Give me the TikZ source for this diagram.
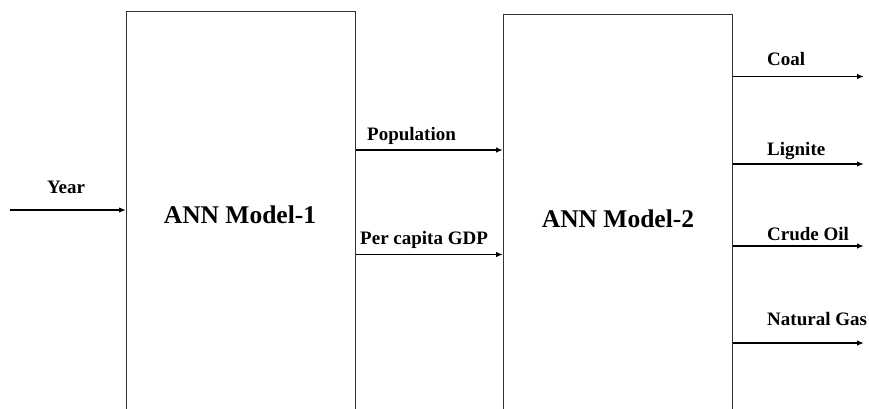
\documentclass[tikz,border=0pt]{standalone}
\usepackage{fontspec}
\setmainfont{Liberation Serif}
\usetikzlibrary{arrows.meta,positioning}
\begin{document}
\begin{tikzpicture}[x=1pt,y=-1pt,
  model/.style={draw=black!80,line width=1.3pt,minimum width=229pt,minimum height=420pt,anchor=north west,inner sep=0pt},
  big/.style={font=\fontsize{25.5}{30}\selectfont\bfseries,inner sep=0pt,anchor=base},
  lab/.style={font=\fontsize{19}{22}\selectfont\bfseries,inner sep=0pt,anchor=base west},
  arr/.style={line width=1.5pt,-{Latex[length=7pt,width=5.5pt]}}]
\useasboundingbox (0,0) rectangle (869,408);
\clip (0,0) rectangle (869,408);
\node[model] (m1) at (126,11) {};
\node[model] (m2) at (503,14) {};
\node[big] (t1) at (240,223) {ANN Model-1};
\node[big] (t2) at (618,227) {ANN Model-2};
% input
\coordinate (yin) at (10,210);
\draw[arr] (yin) -- (yin -| m1.west);
\node[font=\fontsize{19}{22}\selectfont\bfseries,inner sep=0pt,anchor=base] (ly) at (66,193) {Year};
% middle
\coordinate (pp) at (0,150);
\coordinate (pg) at (0,254.5);
\draw[arr] (m1.east |- pp) -- (m2.west |- pp);
\draw[arr] (m1.east |- pg) -- (m2.west |- pg);
\node[lab] (lp) at (367,140) {Population};
\node[lab] (lg) at (360,244) {Per capita GDP};
% outputs
\coordinate (e1) at (864,76.5);
\coordinate (e2) at (864,164);
\coordinate (e3) at (864,246);
\coordinate (e4) at (864,343);
\draw[arr] (m2.east |- e1) -- (e1);
\draw[arr] (m2.east |- e2) -- (e2);
\draw[arr] (m2.east |- e3) -- (e3);
\draw[arr] (m2.east |- e4) -- (e4);
\node[lab] (o1) at (767,65) {Coal};
\node[lab] (o2) at (767,155) {Lignite};
\node[lab] (o3) at (767,240) {Crude Oil};
\node[lab] (o4) at (767,325) {Natural Gas};
\end{tikzpicture}
\end{document}
